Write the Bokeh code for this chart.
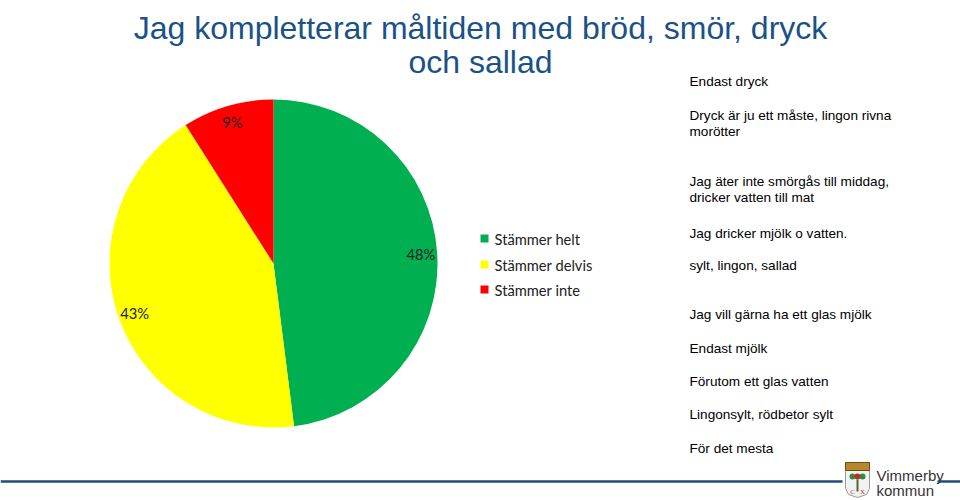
import numpy as np
from bokeh.plotting import figure
from bokeh.models import Range1d, ColumnDataSource
from bokeh.core.properties import value
from bokeh.embed import file_html
from bokeh.resources import INLINE

# ---------------- data ----------------
title_lines = ["Jag kompletterar måltiden med bröd, smör, dryck", "och sallad"]
categories = ["Stämmer helt", "Stämmer delvis", "Stämmer inte"]
shares = [48, 43, 9]
colors = ["#00B050", "#FFFF00", "#FF0000"]
comment_lines = [
    "Endast dryck",
    "Dryck är ju ett måste, lingon rivna",
    "morötter",
    "Jag äter inte smörgås till middag,",
    "dricker vatten till mat",
    "Jag dricker mjölk o vatten.",
    "sylt, lingon, sallad",
    "Jag vill gärna ha ett glas mjölk",
    "Endast mjölk",
    "Förutom ett glas vatten",
    "Lingonsylt, rödbetor sylt",
    "För det mesta",
]
comment_rows = [81, 115, 131, 181, 197, 233, 265, 314, 348, 381, 414, 448]

# ---------------- layout helpers ----------------
W, H = 960, 500
def Y(page_y):
    return H - page_y

p = figure(width=W, height=H, x_range=Range1d(0, W), y_range=Range1d(0, H),
           output_backend="svg", toolbar_location=None)
p.axis.visible = False
p.grid.visible = False
p.outline_line_color = None
p.background_fill_color = "white"
p.border_fill_color = "white"
p.min_border = 0

# title
p.text(x=[480, 480], y=[Y(27), Y(61)], text=title_lines,
       text_font=value("Liberation Sans"), text_font_size="32px",
       text_color="#1A5288", text_align="center", text_baseline="alphabetic")

# pie
cx, cy, R = 273, Y(263), 164
vals = np.array(shares, dtype=float)
frac = vals / vals.sum()
ends = np.deg2rad(90) - 2 * np.pi * np.concatenate([[0], np.cumsum(frac)[:-1]])
starts = ends - 2 * np.pi * frac
src = ColumnDataSource(dict(start=starts, end=ends, color=colors, cat=categories))
p.wedge(x=cx, y=cy, radius=R, start_angle="start", end_angle="end",
        fill_color="color", line_color=None, source=src)

mids = (starts + ends) / 2
lab_r = 0.90 * R
p.text(x=cx + lab_r * np.cos(mids), y=cy + lab_r * np.sin(mids),
       text=[f"{v}%" for v in shares], text_font=value("Lato"), text_font_size="14.7px",
       text_color="#222222", text_align="center", text_baseline="middle")

# legend
leg_y = [Y(238), Y(264), Y(289)]
p.rect(x=[484] * 3, y=leg_y, width=8, height=8, fill_color=colors, line_color=None)
p.text(x=[494] * 3, y=leg_y, text=categories, text_font=value("Lato"),
       text_font_size="14.7px", text_color="#222222", text_baseline="middle")

# comments
p.text(x=[689] * len(comment_lines), y=[Y(r) for r in comment_rows], text=comment_lines,
       text_font=value("Liberation Sans"), text_font_size="13.6px",
       text_color="#000000", text_baseline="middle")

# bottom rule
p.segment(x0=[0, 937], y0=[Y(481)] * 2, x1=[842, 960], y1=[Y(481)] * 2,
          line_color="#1F4E79", line_width=2.5)

# logo (shield)
sx = [845, 869, 869, 866, 857, 848, 845]
sy = [Y(y) for y in [462, 462, 488, 494, 497, 494, 488]]
p.patch(x=sx, y=sy, fill_color="#F2F2F2", line_color="#9A9A9A", line_width=1)
p.rect(x=[857], y=[Y(466)], width=24, height=8, fill_color="#B8862E", line_color="#6B4E1A")
p.circle(x=[852, 857, 862], y=[Y(476)] * 3, radius=3, fill_color=["#2E8B3A", "#D22030", "#2E8B3A"], line_color=None)
p.rect(x=[857], y=[Y(485)], width=2, height=12, fill_color="#4A6A2A", line_color=None)
p.text(x=[852, 862], y=[Y(491)] * 2, text=["C", "X"], text_font=value("Liberation Serif"),
       text_font_size="7px", text_color="#C0302A", text_align="center", text_baseline="middle")
p.text(x=[876, 876], y=[Y(475), Y(490)], text=["Vimmerby", "kommun"],
       text_font=value("Liberation Sans"), text_font_size="15px",
       text_color="#333333", text_baseline="middle")

open("out.html", "w").write(file_html(p, INLINE))
